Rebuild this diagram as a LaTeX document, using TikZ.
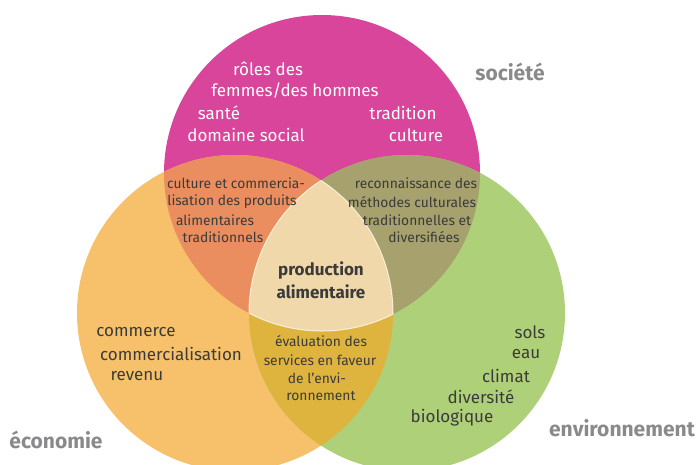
\documentclass[tikz,border=0pt]{standalone}
\usepackage{fontspec}
\setmainfont{Fira Sans}
\definecolor{societe}{HTML}{D8459A}
\definecolor{economie}{HTML}{F6C16A}
\definecolor{environ}{HTML}{AED078}
\definecolor{socieco}{HTML}{EA8E5F}
\definecolor{socienv}{HTML}{A6A16D}
\definecolor{ecoenv}{HTML}{DEB43F}
\definecolor{centre}{HTML}{F0D8AA}
\definecolor{textdark}{HTML}{3B3B3B}
\definecolor{labelgray}{HTML}{8A8A8C}
\tikzset{
    big/.style = {
        inner sep=0pt,
        text=textdark,
        font=\fontsize{17}{19}\selectfont
    },
    bigwhite/.style = {
        big,
        text=white
    },
    small/.style = {
        inner sep=0pt,
        text=textdark,
        font=\fontsize{13.8}{15}\selectfont
    },
    core/.style = {
        inner sep=0pt,
        text=textdark,
        font=\fontsize{17}{19}\selectfont\bfseries
    },
    setname/.style = {
        inner sep=0pt,
        text=labelgray,
        font=\fontsize{21}{23}\selectfont\bfseries
    },
}
\begin{document}
\begin{tikzpicture}[x=1pt,y=-1pt]
            \useasboundingbox (0,0) rectangle (700,464);
            \coordinate (soc) at (322,173);
            \coordinate (eco) at (235,313);
            \coordinate (env) at (407,313);
            \def\rr{158}

            \fill[societe] (soc) circle[radius=\rr];
            \fill[economie] (eco) circle[radius=\rr];
            \fill[environ] (env) circle[radius=\rr];
            \begin{scope}
                \clip (soc) circle[radius=\rr];
                \fill[socieco] (eco) circle[radius=\rr];
                \fill[socienv] (env) circle[radius=\rr];
            \end{scope}
            \begin{scope}
                \clip (eco) circle[radius=\rr];
                \fill[ecoenv] (env) circle[radius=\rr];
                \clip (env) circle[radius=\rr];
                \fill[centre] (soc) circle[radius=\rr];
                \draw[white, opacity=0.7, line width=1pt] (soc) circle[radius=\rr];
            \end{scope}
            \begin{scope}
                \clip (soc) circle[radius=\rr];
                \clip (eco) circle[radius=\rr];
                \draw[white, opacity=0.7, line width=1pt] (env) circle[radius=\rr];
            \end{scope}
            \begin{scope}
                \clip (soc) circle[radius=\rr];
                \clip (env) circle[radius=\rr];
                \draw[white, opacity=0.7, line width=1pt] (eco) circle[radius=\rr];
            \end{scope}

            \node[bigwhite] (roles) at (268,69) {rôles des};
            \node[bigwhite] (femmes) at (295,91) {femmes/des hommes};
            \node[bigwhite] (sante) at (219,113) {santé};
            \node[bigwhite] (social) at (246,135) {domaine social};
            \node[bigwhite] (tradition) at (403,113) {tradition};
            \node[bigwhite] (culture) at (416,135) {culture};

            \node[small] (cc1) at (236,183) {culture et commercia-};
            \node[small] (cc2) at (232,202) {lisation des produits};
            \node[small] (cc3) at (215,220) {alimentaires};
            \node[small] (cc4) at (223,237) {traditionnels};

            \node[small] (rm1) at (416,183) {reconnaissance des};
            \node[small] (rm2) at (412,202) {méthodes culturales};
            \node[small] (rm3) at (417,220) {traditionnelles et};
            \node[small] (rm4) at (424,237) {diversifiées};

            \node[core] (prod) at (321,270) {production};
            \node[core] (alim) at (321,292) {alimentaire};

            \node[small] (ev1) at (321,341) {évaluation des};
            \node[small] (ev2) at (320,360) {services en faveur};
            \node[small] (ev3) at (317,378) {de l’envi-};
            \node[small] (ev4) at (321,396) {ronnement};

            \node[big] (commerce) at (136,332) {commerce};
            \node[big] (commercial) at (171,354) {commercialisation};
            \node[big] (revenu) at (137,376) {revenu};

            \node[big] (sols) at (530,332) {sols};
            \node[big] (eau) at (526,354) {eau};
            \node[big] (climat) at (506,376) {climat};
            \node[big] (diversite) at (481,397) {diversité};
            \node[big] (biologique) at (452,418) {biologique};

            \node[setname] (lsoc) at (510,72) {société};
            \node[setname] (leco) at (56,440) {économie};
            \node[setname] (lenv) at (622,428) {environnement};
        \end{tikzpicture}
\end{document}
